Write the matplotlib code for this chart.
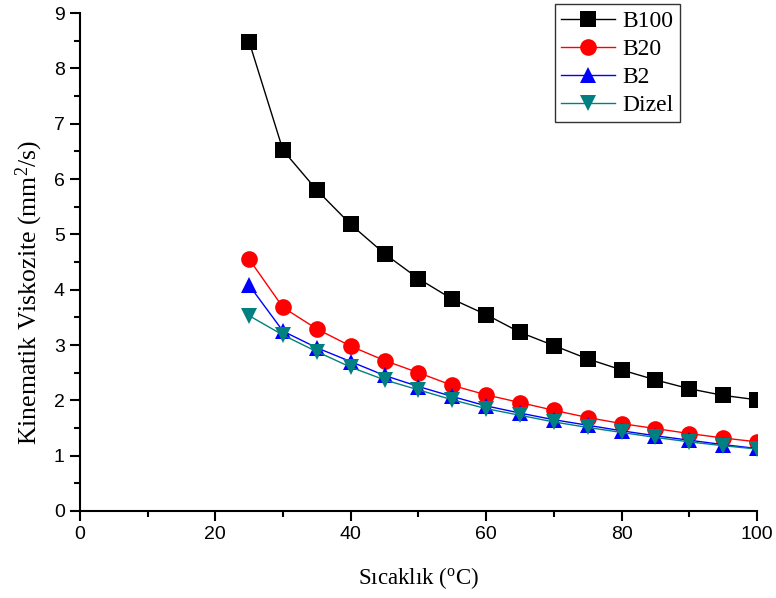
import matplotlib
matplotlib.use("Agg")
import matplotlib.pyplot as plt
from matplotlib.ticker import MultipleLocator
from matplotlib.font_manager import FontProperties

plt.rcParams["mathtext.fontset"] = "custom"
plt.rcParams["mathtext.rm"] = "Liberation Serif"
plt.rcParams["mathtext.it"] = "Liberation Serif:italic"

temperature = [25, 30, 35, 40, 45, 50, 55, 60, 65, 70, 75, 80, 85, 90, 95, 100]
b100 = [8.48, 6.52, 5.80, 5.18, 4.65, 4.20, 3.83, 3.55, 3.23, 2.99, 2.75, 2.55, 2.37, 2.21, 2.09, 2.01]
b20 = [4.55, 3.68, 3.29, 2.98, 2.72, 2.50, 2.27, 2.10, 1.96, 1.82, 1.69, 1.58, 1.49, 1.40, 1.32, 1.25]
b2 = [4.08, 3.25, 2.95, 2.70, 2.45, 2.25, 2.07, 1.90, 1.77, 1.65, 1.55, 1.45, 1.36, 1.28, 1.20, 1.13]
dizel = [3.53, 3.18, 2.88, 2.60, 2.37, 2.19, 2.01, 1.85, 1.73, 1.61, 1.51, 1.42, 1.33, 1.25, 1.18, 1.12]

series = [
    ("B100", b100, "black", "s"),
    ("B20", b20, "red", "o"),
    ("B2", b2, "blue", "^"),
    ("Dizel", dizel, "#008080", "v"),
]

fig = plt.figure(figsize=(7.76, 5.98), dpi=100)
ax = fig.add_axes([0.103, 0.1455, 0.8725, 0.8325])

for name, vals, color, marker in series:
    ax.plot(temperature, vals, color=color, marker=marker, markersize=12,
            linewidth=1.0, label=name, markeredgewidth=0)

ax.set_xlim(0, 100)
ax.set_ylim(0, 9)
ax.xaxis.set_major_locator(MultipleLocator(20))
ax.xaxis.set_minor_locator(MultipleLocator(10))
ax.yaxis.set_major_locator(MultipleLocator(1))
ax.yaxis.set_minor_locator(MultipleLocator(0.5))

for side in ("top", "right"):
    ax.spines[side].set_visible(False)
for side in ("left", "bottom"):
    ax.spines[side].set_linewidth(1.5)

ax.tick_params(which="major", direction="out", length=7, width=1.5,
               labelsize=14, pad=4)
ax.tick_params(which="minor", direction="out", length=4, width=1.5)
for lab in ax.get_xticklabels() + ax.get_yticklabels():
    lab.set_fontfamily("Liberation Sans")

ax.set_xlabel("Sıcaklık ($\\mathregular{^o}$C)", fontsize=16.5,
              family="Liberation Serif", labelpad=16)
ax.set_ylabel("Kinematik Viskozite (mm$\\mathregular{^2}$/s)", fontsize=18.5,
              family="Liberation Serif")
ax.yaxis.set_label_coords(-0.052, 0.44)

legend_font = FontProperties(family="Liberation Serif", size=17)
leg = ax.legend(loc="upper left", bbox_to_anchor=(0.7155, 0.9925),
                bbox_transform=fig.transFigure, prop=legend_font,
                frameon=True, fancybox=False, edgecolor="black",
                borderpad=0.25, labelspacing=0.28, handlelength=2.3,
                handletextpad=0.3, borderaxespad=0)
leg.get_frame().set_linewidth(1.0)

fig.savefig("out.png", dpi=100)
